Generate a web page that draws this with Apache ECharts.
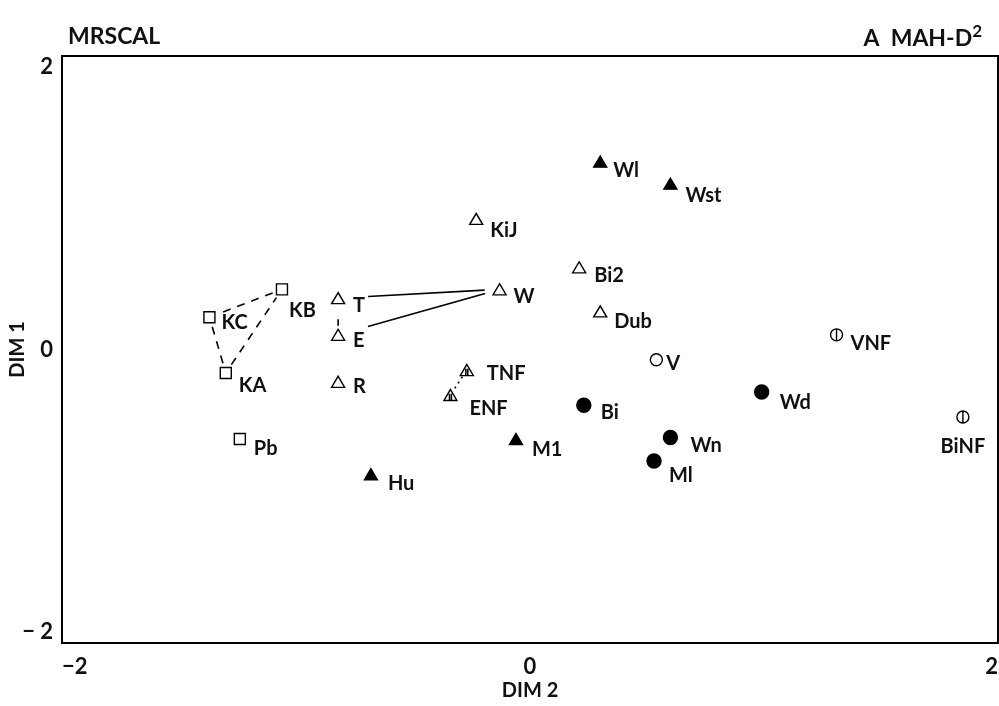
<!DOCTYPE html>
<html><head><meta charset="utf-8">
<script src="https://cdn.jsdelivr.net/npm/echarts@6/dist/echarts.min.js"></script>
<style>html,body{margin:0;padding:0;background:#fff}#c{width:999px;height:706px}</style>
</head><body><div id="c"></div>
<script>
// ---- data ----
const names = ['KB','KC','KA','Pb','T','E','R','W','KiJ','Bi2','Dub','TNF','ENF','Wl','Wst','M1','Hu','Bi','Wd','Wn','Ml','V','VNF','BiNF'];
const dim2  = [-1.06,-1.37,-1.30,-1.24,-0.82,-0.82,-0.82,-0.13,-0.23,0.21,0.30,-0.27,-0.34,0.30,0.60,-0.06,-0.68,0.23,0.99,0.60,0.53,0.54,1.31,1.85];
const dim1  = [0.41,0.22,-0.16,-0.61,0.35,0.10,-0.22,0.41,0.89,0.56,0.26,-0.14,-0.31,1.28,1.13,-0.61,-0.85,-0.38,-0.29,-0.60,-0.76,-0.07,0.10,-0.46];
const groups = ['openSquare','openSquare','openSquare','openSquare',
  'openTriangle','openTriangle','openTriangle','openTriangle','openTriangle','openTriangle','openTriangle',
  'hatchedTriangle','hatchedTriangle',
  'filledTriangle','filledTriangle','filledTriangle','filledTriangle',
  'filledCircle','filledCircle','filledCircle','filledCircle',
  'openCircle','barCircle','barCircle'];
const links = [['KB','KC'],['KC','KA'],['KA','KB'],['T','E'],['T','W'],['E','W'],['TNF','ENF']];
const linkKinds = ['dashed','dashed','dashed','solid','solid','solid','dotted'];
const xTicks = [-2, 0, 2];
const yTicks = [-2, 0, 2];

// ---- layout / style (not data) ----
const FONT = 'Lato';
const labelOffsets = {KB:[7,21],KC:[12,5],KA:[13,13],Pb:[14,10],T:[15,7],E:[15,6],R:[15,5],W:[14,7],KiJ:[14,12],
  Bi2:[15,8],Dub:[14,10],TNF:[20,4],ENF:[19,14],Wl:[13,9],Wst:[15,12],M1:[16,11],Hu:[17,9],Bi:[17,7],Wd:[18,10],
  Wn:[20,8],Ml:[15,15],V:[10,4],VNF:[14,9],BiNF:[0,30]};
const centered = {BiNF:true};
const linkGaps = [[10,10],[10,10],[10,10],[21,9],[30,15],[31,15],[8,8]];
const dashMap = {dashed:[8,7], solid:null, dotted:[2,4]};
const symbolStyles = {
  openSquare:     {symbol:'rect', size:11, fill:'#fff'},
  openTriangle:   {symbol:'triangle', size:[13,11], fill:'#fff'},
  hatchedTriangle:{symbol:'path://M10,0 L20,18 L0,18 Z M8.5,7 L8.5,18 M11.5,7 L11.5,18', size:[13,11], fill:'none'},
  filledTriangle: {symbol:'triangle', size:[13,11], fill:'#000'},
  filledCircle:   {symbol:'circle', size:14, fill:'#000'},
  openCircle:     {symbol:'circle', size:12, fill:'#fff'},
  barCircle:      {symbol:'path://M10,0 A10,10 0 1,1 10,20 A10,10 0 1,1 10,0 Z M10,0 L10,20', size:12, fill:'none'}
};

const series = [];
const idx = n => names.indexOf(n);
series.push({
  type:'custom', silent:true, z:1,
  data: links.map(([a,b]) => [dim2[idx(a)], dim1[idx(a)], dim2[idx(b)], dim1[idx(b)]]),
  encode:{x:[0,2], y:[1,3]},
  renderItem:(params, api) => {
    const p1 = api.coord([api.value(0), api.value(1)]);
    const p2 = api.coord([api.value(2), api.value(3)]);
    const dx = p2[0]-p1[0], dy = p2[1]-p1[1];
    const L = Math.sqrt(dx*dx+dy*dy);
    const g = linkGaps[params.dataIndex];
    const ux = dx/L, uy = dy/L;
    return {type:'line', shape:{x1:p1[0]+ux*g[0], y1:p1[1]+uy*g[0], x2:p2[0]-ux*g[1], y2:p2[1]-uy*g[1]},
      style:{stroke:'#000', lineWidth:1.6, lineDash:dashMap[linkKinds[params.dataIndex]]}};
  }
});
Object.keys(symbolStyles).forEach(gname => {
  const st = symbolStyles[gname];
  const data = [];
  names.forEach((n,i) => {
    if (groups[i] !== gname) return;
    const off = labelOffsets[n];
    data.push({name:n, value:[dim2[i], dim1[i]],
      label:{offset:off, align: centered[n] ? 'center' : 'left'}});
  });
  series.push({
    type:'scatter', z:3, silent:true, symbol:st.symbol, symbolSize:st.size,
    itemStyle:{color: st.fill === 'none' ? 'rgba(0,0,0,0)' : st.fill, borderColor:'#000', borderWidth:1.4, opacity:1},
    label:{show:true, position:'inside', formatter:'{b}', color:'#111', fontFamily:FONT, fontSize:20,
      fontWeight:'bold', verticalAlign:'middle', textBorderWidth:0},
    emphasis:{disabled:true},
    data
  });
});

const chart = echarts.init(document.getElementById('c'), null, {renderer:'canvas'});
chart.setOption({
  animation:false,
  backgroundColor:'#fff',
  title:[
    {text:'MRSCAL', left:63, top:20, textStyle:{fontFamily:FONT, fontSize:23, fontWeight:'bold', color:'#111'}},
    {text:'A  MAH-D{s|2}', right:12, top:18, textStyle:{fontFamily:FONT, fontSize:23, fontWeight:'bold', color:'#111',
      rich:{s:{fontFamily:FONT, fontSize:17, fontWeight:'bold', color:'#111', padding:[0,0,14,0]}}}}
  ],
  grid:{left:62, top:56, right:1, bottom:63, show:true, borderColor:'#000', borderWidth:2, backgroundColor:'rgba(0,0,0,0)',
    outerBoundsMode:'none', containLabel:false},
  xAxis:{type:'value', min:xTicks[0], max:xTicks[xTicks.length-1], interval:xTicks[1]-xTicks[0],
    name:'DIM 2', nameLocation:'middle', nameGap:38, nameMoveOverlap:false,
    nameTextStyle:{fontFamily:FONT, fontSize:20, fontWeight:'bold', color:'#111'},
    axisLine:{show:false}, axisTick:{show:false}, splitLine:{show:false},
    axisLabel:{fontFamily:FONT, fontSize:22, fontWeight:'bold', color:'#111', margin:13, alignMinLabel:'left', alignMaxLabel:'right',
      formatter:v => v < 0 ? '\u2212' + Math.abs(v) : String(v)}},
  yAxis:{type:'value', min:yTicks[0], max:yTicks[yTicks.length-1], interval:yTicks[1]-yTicks[0],
    name:'DIM 1', nameLocation:'middle', nameGap:34, nameRotate:90, nameMoveOverlap:false,
    nameTextStyle:{fontFamily:FONT, fontSize:20, fontWeight:'bold', color:'#111'},
    axisLine:{show:false}, axisTick:{show:false}, splitLine:{show:false},
    axisLabel:{fontFamily:FONT, fontSize:22, fontWeight:'bold', color:'#111', margin:9,
      verticalAlignMaxLabel:'top', verticalAlignMinLabel:'bottom',
      formatter:v => v < 0 ? '\u2212 ' + Math.abs(v) : String(v)}},
  series
});
</script></body></html>
